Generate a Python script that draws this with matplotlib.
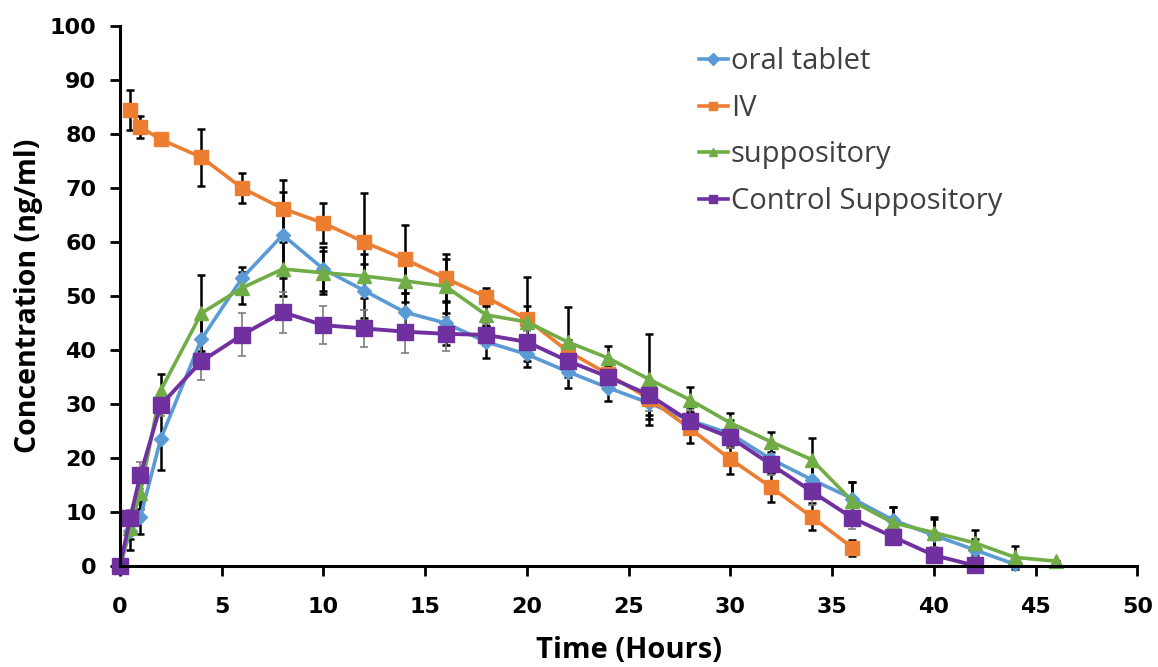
import matplotlib.pyplot as plt
from matplotlib.lines import Line2D

plt.rcParams['font.family'] = ['Open Sans', 'DejaVu Sans']

# tiempos de muestreo (horas)
t_oral = [0, 0.5, 1, 2, 4, 6, 8, 10, 12, 14, 16, 18, 20, 22, 24, 26, 28, 30, 32, 34, 36, 38, 40, 42, 44]
t_iv = [0.5, 1, 2, 4, 6, 8, 10, 12, 14, 16, 18, 20, 22, 24, 26, 28, 30, 32, 34, 36]
t_sup = [0, 0.5, 1, 2, 4, 6, 8, 10, 12, 14, 16, 18, 20, 22, 24, 26, 28, 30, 32, 34, 36, 38, 40, 42, 44, 46]
t_ctrl = [0, 0.5, 1, 2, 4, 6, 8, 10, 12, 14, 16, 18, 20, 22, 24, 26, 28, 30, 32, 34, 36, 38, 40, 42]

# concentraciones (ng/ml)
oral = [0, 6.5, 9, 23.5, 42, 53.3, 61.3, 55, 51, 47, 45, 41.5, 39.2, 36, 33, 30.2, 27, 24.5, 19.8, 16, 12.5, 8.5, 5.7, 3, 0.3]
oral_err = [0, 3.5, 3, 5.7, 4, 2, 8, 4, 5, 3.5, 4, 3, 2.4, 3, 2.5, 3, 2.5, 2.5, 2.5, 3, 3, 2.5, 3, 2, 0.5]

iv = [84.5, 81.3, 79, 75.7, 70, 66.2, 63.5, 60, 56.8, 53.3, 49.8, 45.7, 39.8, 35.5, 31, 25.5, 19.8, 14.6, 9.1, 3.4]
iv_err = [3.7, 2.1, 0.8, 5.3, 2.8, 5.3, 3.7, 9, 6.3, 4.5, 1.7, 7.8, 2, 1.5, 3, 2.8, 2.8, 2.8, 2.5, 1.5]

sup = [0, 7, 13.5, 32.5, 46.8, 51.5, 55, 54.3, 53.7, 52.8, 51.8, 46.5, 45.2, 41.5, 38.5, 34.6, 30.8, 26.5, 23, 19.7, 12, 8, 6.2, 4.3, 1.6, 0.9]
sup_err = [0, 2, 3, 3, 7, 3, 5, 4, 4, 4, 5, 2, 3, 6.5, 2.2, 8.4, 2.3, 1.8, 1.8, 4, 3.5, 3, 2.8, 2.3, 2.1, 0]

ctrl = [0, 8.8, 16.8, 29.8, 37.9, 42.8, 47, 44.6, 44, 43.4, 43, 42.8, 41.5, 38, 35, 31.7, 26.8, 23.8, 18.8, 13.8, 8.9, 5.4, 2, 0.1]
ctrl_err = [0, 1.5, 2.5, 2, 3.5, 4, 3.8, 3.5, 3.5, 4, 3.2, 2, 2, 2, 1.5, 3, 2, 2, 2, 2.5, 2, 1.5, 1.5, 0.5]

nombres = ['oral tablet', 'IV', 'suppository', 'Control Suppository']
colores = ['#5B9BD5', '#ED7D31', '#70AD47', '#7030A0']
marcas = ['D', 's', '^', 's']

fig = plt.figure(figsize=(11.58, 6.67), dpi=100)
ax = fig.add_axes([0.1036, 0.1514, 0.8785, 0.8096])

kw = dict(linewidth=2.6, capsize=3, elinewidth=1.8, capthick=1.8, clip_on=False)
ax.errorbar(t_oral, oral, yerr=oral_err, color=colores[0], marker='D', markersize=7,
            ecolor='black', **kw)
ax.errorbar(t_iv, iv, yerr=iv_err, color=colores[1], marker='s', markersize=10,
            ecolor='black', **kw)
ax.errorbar(t_sup, sup, yerr=sup_err, color=colores[2], marker='^', markersize=10,
            ecolor='black', **kw)
ax.errorbar(t_ctrl, ctrl, yerr=ctrl_err, color=colores[3], marker='s', markersize=11.5,
            ecolor='#7f7f7f', linewidth=2.8, capsize=3, elinewidth=1.2, capthick=1.2,
            clip_on=False)

ax.set_xlim(0, 50)
ax.set_ylim(0, 100)
ax.set_xticks(range(0, 51, 5))
ax.set_yticks(range(0, 101, 10))
for s in ['top', 'right']:
    ax.spines[s].set_visible(False)
for s in ['left', 'bottom']:
    ax.spines[s].set_linewidth(2.2)
ax.tick_params(axis='both', width=2, length=7, labelsize=16)
ax.tick_params(axis='x', pad=15)
ax.tick_params(axis='y', pad=10)
for lab in ax.get_xticklabels() + ax.get_yticklabels():
    lab.set_fontweight('bold')
    lab.set_family('DejaVu Sans')

ax.set_xlabel('Time (Hours)', fontsize=21, fontweight='bold', labelpad=14)
ax.set_ylabel('Concentration (ng/ml)', fontsize=20.5, fontweight='bold', labelpad=5)

proxies = [Line2D([], [], color=c, marker=m, markersize=6, linewidth=2.6)
           for c, m in zip(colores, marcas)]
ax.legend(proxies, nombres, loc='upper left', bbox_to_anchor=(0.543, 1.009), frameon=False,
          fontsize=21, handlelength=1.0, handletextpad=0.1, labelspacing=0.6,
          labelcolor='#404040')

plt.savefig('out.png')
